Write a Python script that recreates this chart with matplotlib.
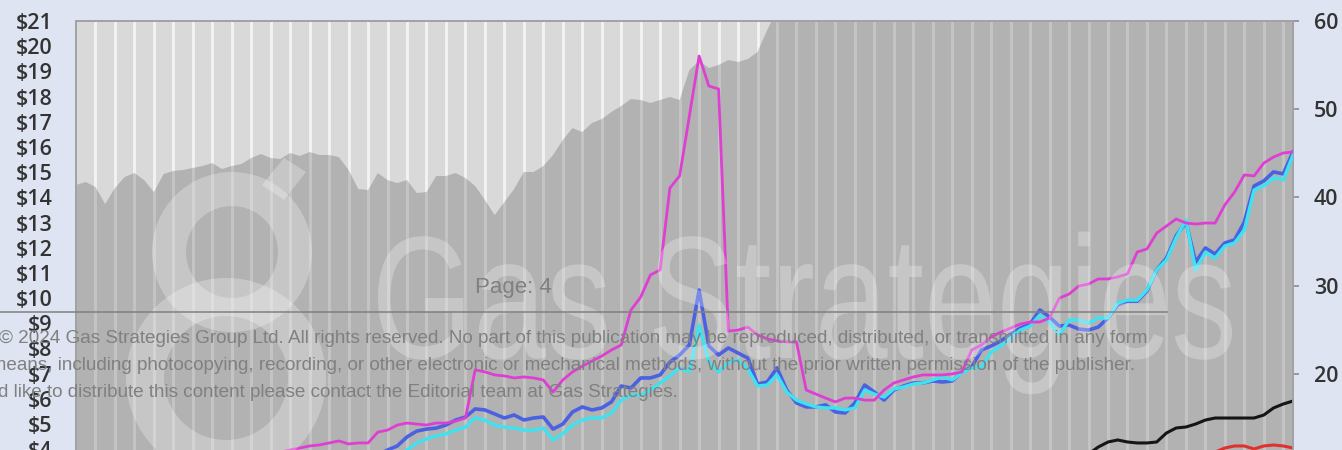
import matplotlib
matplotlib.use("Agg")
import matplotlib.pyplot as plt
import numpy as np
from matplotlib.textpath import TextPath
from matplotlib.font_manager import FontProperties
from matplotlib.patches import PathPatch, Wedge, Polygon
from matplotlib.lines import Line2D
from matplotlib.transforms import Affine2D

# ---------------- data ----------------
x_step = 0.5

area_start = 0.0   # right-axis units (dark grey area)
area_vals = [41.40, 41.74, 41.17, 39.24, 41.06, 42.30, 42.76, 41.96, 40.60, 42.64,
             42.99, 43.10, 43.33, 43.55, 43.89, 43.21, 43.55, 43.78, 44.46, 44.91,
             44.46, 44.35, 45.03, 44.69, 45.14, 44.80, 44.80, 44.57, 43.10, 40.94,
             40.83, 42.76, 41.96, 41.62, 41.96, 40.49, 40.60, 42.42, 42.42, 42.76,
             42.19, 41.28, 39.70, 37.99, 39.47, 40.94, 42.87, 42.87, 43.55, 44.80,
             46.50, 47.86, 47.41, 48.43, 48.88, 49.68, 50.36, 51.15, 51.04, 50.70,
             51.04, 51.38, 51.04, 54.44, 55.46, 54.67, 55.01, 55.57, 55.35, 55.69,
             56.48, 58.98,
             61.2, 62.0, 62.5, 63.1, 63.4, 63.0, 63.8, 64.2, 64.0, 64.6,
             65.0, 64.7, 65.3, 65.8, 65.5, 66.0, 66.4, 66.1, 66.8, 67.0,
             66.6, 67.2, 67.5, 67.1, 67.8, 68.0, 67.7, 68.3, 68.6, 68.2,
             68.9, 69.1, 68.8, 69.4, 69.7, 69.3, 69.9, 70.2, 69.8, 70.4,
             70.6, 70.3, 70.9, 71.1, 71.4, 71.0, 71.6, 71.9, 71.5, 72.1,
             72.4, 72.0, 72.6, 72.8]

magenta_start = 9.0   # $ (left axis)
magenta_vals = [3.37, 3.57, 3.73, 3.89, 3.97, 4.05, 4.13, 4.17, 4.25, 4.33,
                4.21, 4.25, 4.25, 4.68, 4.76, 4.96, 5.04, 5.00, 4.96, 5.04,
                5.04, 5.12, 5.24, 7.15, 7.07, 6.95, 6.91, 6.83, 6.87, 6.83,
                6.75, 6.27, 6.75, 7.07, 7.30, 7.50, 7.70, 7.94, 8.14, 9.53,
                10.04, 10.92, 11.12, 14.37, 14.85, 17.23, 19.61, 18.42, 18.30, 8.69,
                8.73, 8.85, 8.54, 8.38, 8.30, 8.26, 8.26, 6.35, 6.19, 6.03,
                5.88, 6.03, 6.03, 5.95, 5.95, 6.35, 6.63, 6.75, 6.87, 6.95,
                6.95, 6.95, 6.99, 7.07, 7.94, 8.14, 8.46, 8.65, 8.81, 8.97,
                9.05, 9.05, 9.21, 10.00, 10.16, 10.48, 10.56, 10.76, 10.76, 10.84,
                10.96, 11.83, 11.95, 12.58, 12.86, 13.14, 12.98, 12.94, 12.98, 12.98,
                13.70, 14.21, 14.89, 14.85, 15.36, 15.60, 15.76, 15.80]

blue_start = 14.0
blue_vals = [3.18, 3.37, 3.57, 3.77, 3.97, 4.13, 4.49, 4.72, 4.80, 4.84,
             4.96, 5.16, 5.28, 5.60, 5.56, 5.40, 5.24, 5.36, 5.16, 5.24,
             5.28, 4.80, 5.00, 5.48, 5.68, 5.56, 5.64, 5.88, 6.51, 6.43,
             6.83, 6.83, 6.95, 7.46, 7.74, 8.14, 10.32, 8.10, 7.74, 8.02,
             7.82, 7.62, 6.59, 6.67, 7.23, 6.35, 5.84, 5.68, 5.68, 5.76,
             5.48, 5.44, 5.84, 6.55, 6.27, 5.95, 6.35, 6.51, 6.63, 6.63,
             6.71, 6.67, 6.71, 7.07, 7.26, 7.94, 8.10, 8.30, 8.57, 8.81,
             8.97, 9.53, 9.25, 8.89, 8.93, 8.77, 8.73, 8.85, 9.21, 9.73,
             9.88, 9.88, 10.28, 11.12, 11.59, 12.47, 13.02, 11.43, 11.99, 11.75,
             12.19, 12.31, 13.02, 14.45, 14.65, 15.01, 14.93, 15.80]

cyan_start = 15.0
cyan_vals = [3.18, 3.37, 3.57, 3.77, 3.97, 4.25, 4.41, 4.53, 4.61, 4.76,
             4.88, 5.24, 5.16, 4.96, 4.88, 4.84, 4.76, 4.76, 4.84, 4.37,
             4.61, 4.96, 5.16, 5.24, 5.24, 5.44, 5.95, 6.15, 6.15, 6.35,
             6.63, 6.91, 7.23, 7.07, 8.93, 7.46, 7.07, 7.46, 7.54, 7.19,
             6.51, 6.55, 6.95, 6.27, 5.95, 5.80, 5.68, 5.64, 5.64, 5.56,
             5.64, 6.35, 6.19, 6.07, 6.39, 6.47, 6.59, 6.63, 6.75, 6.87,
             6.75, 7.03, 7.23, 7.26, 7.86, 8.10, 8.42, 8.73, 8.89, 9.33,
             9.05, 8.54, 9.13, 9.13, 9.01, 9.21, 9.21, 9.81, 9.92, 9.92,
             10.32, 11.12, 11.51, 12.39, 13.10, 11.12, 11.83, 11.59, 12.07, 12.19,
             12.70, 14.29, 14.45, 14.77, 14.69, 15.68]

black_start = 51.0   # right-axis units
black_vals = [9.07, 9.98, 10.89, 11.68, 12.25, 12.48, 12.25, 12.14, 12.14, 12.25,
              13.27, 13.84, 13.95, 14.29, 14.74, 14.97, 14.97, 14.97, 14.97, 14.97,
              15.31, 16.11, 16.56, 16.90]

red_start = 57.0
red_vals = [10.43, 10.66, 10.77, 11.11, 11.57, 11.80, 11.80, 11.46, 11.80, 11.91,
            11.80, 11.57]

left_ticks = list(range(0, 22))
left_labels = ["$%d" % v for v in left_ticks]
right_ticks = [0, 10, 20, 30, 40, 50, 60]
right_labels = [str(v) for v in right_ticks]
grid_positions = list(range(1, 63))

copyright_lines = [
    "\u00a9 2024 Gas Strategies Group Ltd. All rights reserved. No part of this publication may be reproduced, distributed, or transmitted in any form",
    "or by any means, including photocopying, recording, or other electronic or mechanical methods, without the prior written permission of the publisher.",
    "If you would like to distribute this content please contact the Editorial team at Gas Strategies.",
]


def xs(start, vals):
    return start + x_step * np.arange(len(vals))


# ---------------- figure ----------------
W, H = 1342, 450
fig = plt.figure(figsize=(W / 100, H / 100), dpi=100)
fig.patch.set_facecolor("#dee4f1")

left_px, right_px, top_px, bottom_px = 76, 1293, 21, 550
ax = fig.add_axes([left_px / W, 1 - bottom_px / H,
                   (right_px - left_px) / W, (bottom_px - top_px) / H])
ax2 = ax.twinx()
ax.set_zorder(ax2.get_zorder() + 1)
ax.patch.set_visible(False)
ax2.patch.set_visible(True)
ax2.set_facecolor("#d9d9d9")

ax.set_xlim(0, 62.5)
ax.set_ylim(0, 21)
ax2.set_ylim(0, 60)
ax.grid(False)
ax2.grid(False)
ax.tick_params(axis="x", length=0, labelbottom=False)

# vertical gridlines
ax2.vlines(grid_positions, 0, 1, transform=ax2.get_xaxis_transform(),
           colors="#f3f3f3", linewidth=2.1, zorder=1)

# area (right axis)
ax2.fill_between(xs(area_start, area_vals), 0, area_vals, color="#595959",
                 alpha=0.3, linewidth=0, zorder=2)
ax2.plot(xs(black_start, black_vals), black_vals, color="#151515", lw=2.2,
         solid_joinstyle="round", zorder=3)
ax2.plot(xs(red_start, red_vals), red_vals, color="#e0322d", lw=2.2,
         solid_joinstyle="round", zorder=3)

# price lines (left axis)
ax.plot(xs(blue_start, blue_vals), blue_vals, color="#4a62e2", lw=2.6,
        solid_joinstyle="round", zorder=3)
ax.plot(xs(cyan_start, cyan_vals), cyan_vals, color="#3ee2f0", lw=2.4,
        solid_joinstyle="round", zorder=4)
ax.plot(xs(magenta_start, magenta_vals), magenta_vals, color="#de3fd2", lw=2.0,
        solid_joinstyle="round", zorder=5)

lab_font = dict(family="Open Sans", size=15.5, weight="semibold")
ax.set_yticks(left_ticks)
ax.set_yticklabels(left_labels, fontdict=lab_font, color="#333333")
ax.tick_params(axis="y", length=0, pad=17)
ax2.set_yticks(right_ticks)
ax2.set_yticklabels(right_labels, fontdict=lab_font, color="#333333")
ax2.tick_params(axis="y", length=4, width=1.2, color="#8c8c8c", pad=11)

for a in (ax, ax2):
    for s in a.spines.values():
        s.set_color("#a3a3a3")
        s.set_linewidth(1.3)

# ---------------- watermark ----------------
pix = Affine2D().scale(1 / W, -1 / H).translate(0, 1) + fig.transFigure
wm_kw = dict(facecolor="white", edgecolor="none", alpha=0.27, zorder=5)

fp = FontProperties(family="Liberation Sans")
tp = TextPath((0, 0), "Gas Strategies", size=100, prop=fp)
ext = tp.get_extents()
cap = TextPath((0, 0), "H", size=100, prop=fp).get_extents().height
sx = (1232 - 378) / ext.width
sy = 120 / cap
tpath = Affine2D().translate(-ext.x0, 0).scale(sx, -sy).translate(378, 358).transform_path(tp)
fig.add_artist(PathPatch(tpath, transform=pix, **wm_kw))

fig.add_artist(Wedge((232, 252), 80, 0, 360, width=34, transform=pix, **wm_kw))
fig.add_artist(Wedge((226, 378), 100, 0, 360, width=38, transform=pix, **wm_kw))
fig.add_artist(Polygon([(262, 185), (284, 158), (306, 172), (284, 200)],
                       closed=True, transform=pix, **wm_kw))

# ---------------- page overlay text ----------------
fig.text(475, 293, "Page: 4", transform=pix, fontsize=16, color="#808080",
         family="Liberation Sans", ha="left", va="baseline", zorder=10)
fig.add_artist(Line2D([0, 1167], [312, 312], transform=pix, color="#808080",
                      lw=1.1, zorder=10))

# fit the font size so the visible part of the last line spans 0..678 px
r = fig.canvas.get_renderer()
probe = fig.text(0, 0, "ld like to distribute this content please contact the Editorial team at Gas Strategies.",
                 fontsize=14, family="Liberation Sans")
wid = probe.get_window_extent(r).width
probe.remove()
fs = 14 * 678 / wid * 1.02

fig.text(-1, 343, copyright_lines[0], transform=pix, fontsize=fs,
         color="#808080", family="Liberation Sans", ha="left",
         va="baseline", zorder=10)
fig.text(1135, 370, copyright_lines[1], transform=pix, fontsize=fs,
         color="#808080", family="Liberation Sans", ha="right",
         va="baseline", zorder=10)
fig.text(678, 397, copyright_lines[2], transform=pix, fontsize=fs,
         color="#808080", family="Liberation Sans", ha="right",
         va="baseline", zorder=10)

fig.savefig("out.png", dpi=100, facecolor=fig.get_facecolor())
